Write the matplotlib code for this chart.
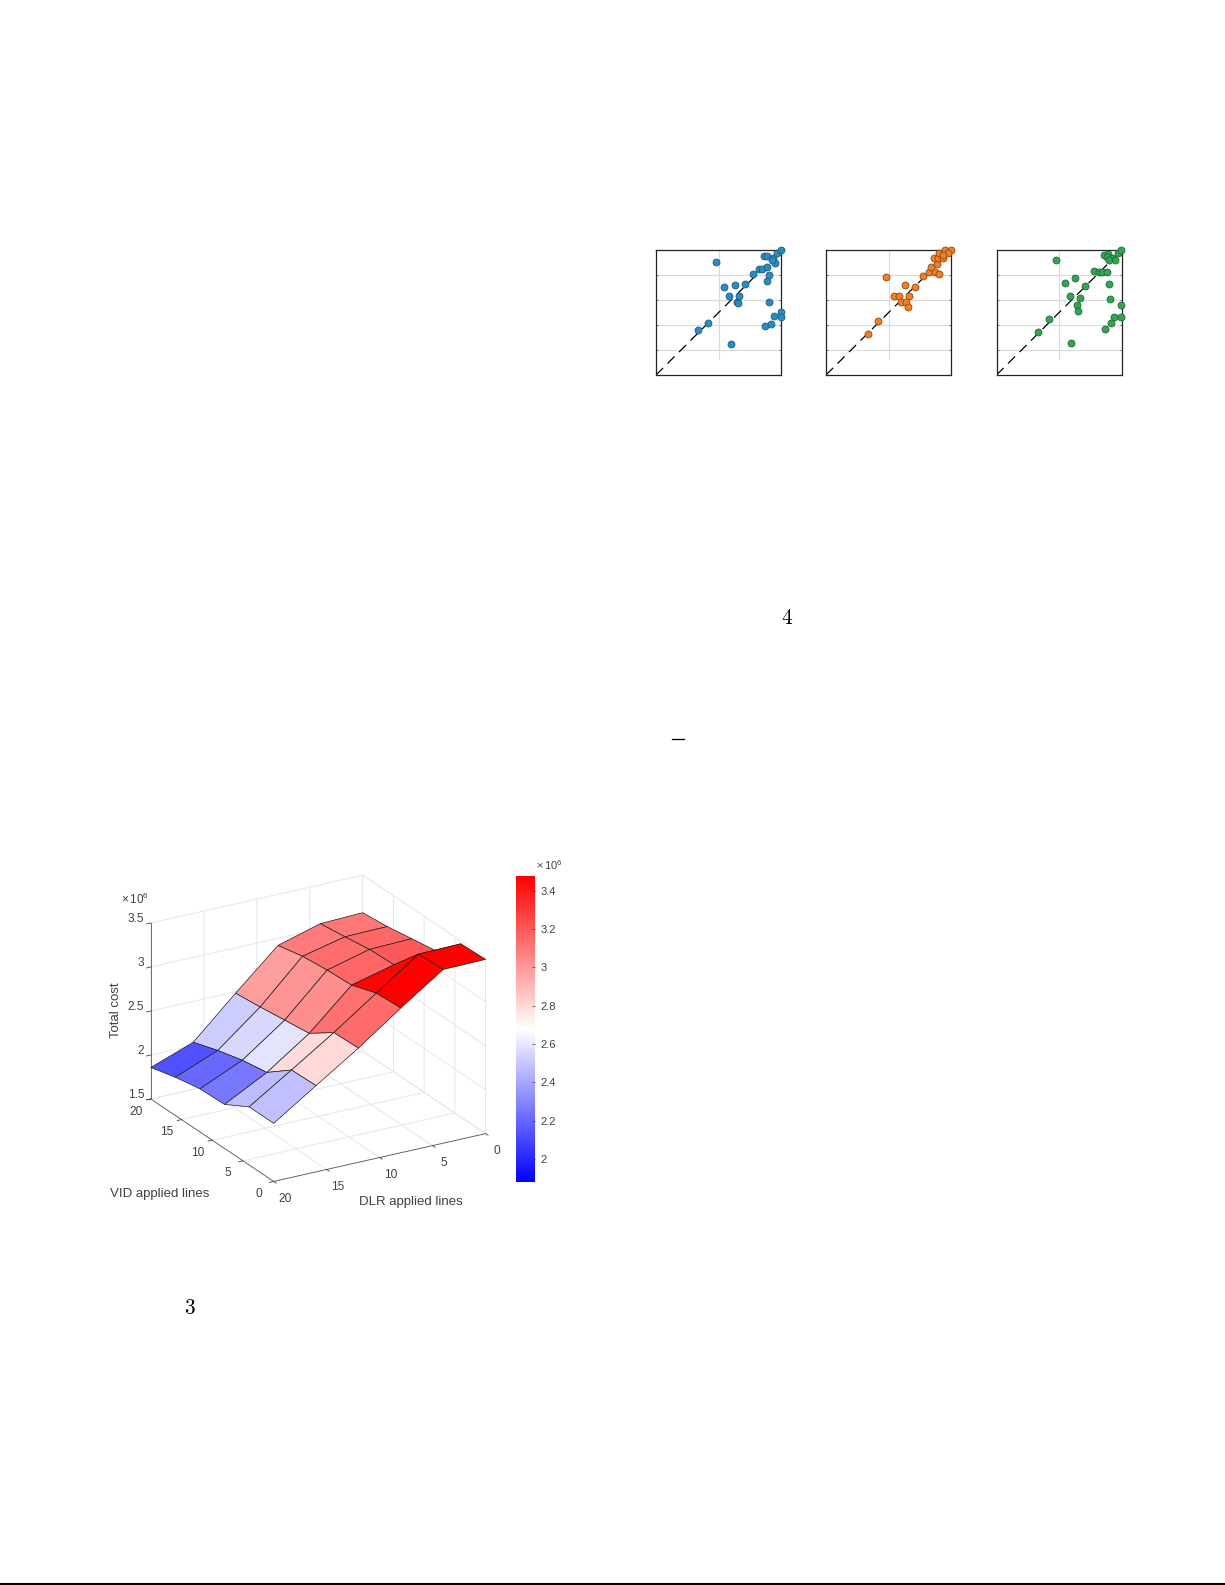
import matplotlib

matplotlib.use("Agg")

import matplotlib.pyplot as plt
import numpy as np
from matplotlib.cm import ScalarMappable
from matplotlib.colors import LinearSegmentedColormap, Normalize
from matplotlib.lines import Line2D

WIDTH, HEIGHT = 1225, 1585

# surface: rows run VID 20 -> 0, columns run DLR 20 -> 0 (units of 1e6)
VID_LINES = [20, 16, 12, 8, 4, 0]
DLR_LINES = [20, 16, 12, 8, 4, 0]
TOTAL_COST = [
    [1.858, 2.036, 2.485, 2.919, 3.058, 3.074],
    [1.934, 2.130, 2.515, 2.983, 3.096, 3.104],
    [1.990, 2.206, 2.553, 3.013, 3.140, 3.153],
    [2.000, 2.255, 2.590, 3.030, 3.153, 3.200],
    [2.160, 2.470, 2.787, 3.126, 3.462, 3.470],
    [2.160, 2.480, 2.798, 3.145, 3.474, 3.480],
]
COLOR_MIN, COLOR_MAX = 1.877, 3.478

BLUE_X = [.479, .596, .335, .418, .545, .628, .707, .582, .665, .644, .654, .777, .822, .848, .886,
          .883, .902, .904, .870, .915, .939, 1.0, 1.0, .864, .888, .931, .949, .928, .968, 1.0]
BLUE_Y = [.904, .245, .360, .413, .701, .717, .728, .629, .632, .587, .576, .808, .851, .845, .867,
          .752, .797, .587, .395, .408, .472, .501, .461, .955, .949, .939, .899, .920, .973, 1.0]
ORANGE_X = [.476, .628, .707, .418, .335, .545, .580, .665, .598, .641, .654, .774, .819,
            .840, .867, .899, .886, .862, .894, .934, .904, .947, .997, .971, .931]
ORANGE_Y = [.787, .717, .707, .432, .331, .629, .632, .635, .587, .584, .541, .789, .821,
            .867, .821, .808, .885, .939, .939, .939, .973, 1.0, 1.0, .973, .960]
GREEN_X = [.475, .626, .544, .706, .584, .663, .642, .653, .419, .332, .597, .775, .820, .844, .883,
           .899, .902, .997, .936, .997, .912, .867, .859, .889, .881, .918, .947, .899, .966, .997]
GREEN_Y = [.920, .773, .733, .715, .635, .613, .557, .512, .448, .347, .253, .832, .827, .827, .821,
           .731, .608, .560, .467, .461, .413, .371, .960, .968, .944, .939, .920, .920, .979, 1.0]

plt.rcParams["font.family"] = ["Liberation Sans", "DejaVu Sans"]
plt.rcParams["mathtext.fontset"] = "custom"
plt.rcParams["mathtext.rm"] = "Liberation Sans"
plt.rcParams["mathtext.default"] = "regular"

INK = "#404040"
GRID = "#e6e6e6"


def box(left, top, right, bottom):
    return [left / WIDTH, 1 - bottom / HEIGHT, (right - left) / WIDTH, (bottom - top) / HEIGHT]


def put_text(figure, x, y, text, **kwargs):
    kwargs.setdefault("ha", "center")
    kwargs.setdefault("va", "center")
    kwargs.setdefault("color", INK)
    figure.text(x / WIDTH, 1 - y / HEIGHT, text, **kwargs)


def put_rule(figure, x0, x1, y, width):
    figure.add_artist(Line2D([x0 / WIDTH, x1 / WIDTH], [1 - y / HEIGHT] * 2, color="black", lw=width))


def draw_scatter(figure, left, xs, ys, color, edge):
    axis = figure.add_axes(box(left, 250, left + 125.3, 375))
    axis.plot([0, 1], [0, 1], color="black", lw=0.9, dashes=(8, 5), zorder=2)
    axis.scatter(xs, ys, s=25, color=color, edgecolor=edge, linewidth=0.6, clip_on=False, zorder=3)
    axis.set_xlim(0, 1)
    axis.set_ylim(0, 1)
    axis.set_xticks([0.5])
    axis.set_yticks([0.2, 0.4, 0.6, 0.8])
    axis.set_xticklabels([])
    axis.set_yticklabels([])
    axis.grid(axis="y", color="#dadada", lw=0.8, zorder=1)
    axis.vlines(0.5, 0.13, 1.0, color="#dadada", lw=0.8, zorder=1)
    axis.tick_params(direction="in", length=1.5, width=0.5, right=True, color=INK)
    axis.tick_params(axis="x", length=0)
    for spine in axis.spines.values():
        spine.set_linewidth(0.9)
        spine.set_color("#222222")


figure = plt.figure(figsize=(WIDTH / 100, HEIGHT / 100), dpi=100)

cmap = LinearSegmentedColormap.from_list("bwr_cost", ["#0000ff", "#ffffff", "#ff0000"])
norm = Normalize(COLOR_MIN, COLOR_MAX)

surface_axis = figure.add_axes([121 / WIDTH, 359.5 / HEIGHT, 384 / WIDTH, 384 / HEIGHT], projection="3d", proj_type="ortho")
surface_axis.set_facecolor("none")
surface_axis.view_init(elev=22.9, azim=-120.1)
surface_axis.set_box_aspect((1, 1, 0.78))

dlr_grid, vid_grid = np.meshgrid(DLR_LINES, VID_LINES)
cost = np.array(TOTAL_COST)
# flat shading takes each cell's colour from its far corner
cell_colors = cmap(norm(cost[1:, 1:]))
surface_axis.plot_surface(dlr_grid, vid_grid, cost, facecolors=cell_colors, shade=False, rstride=1, cstride=1,
                          edgecolor="#202020", linewidth=0.5, antialiased=True)

surface_axis.set_xlim(20, 0, view_margin=0)
surface_axis.set_ylim(0, 20, view_margin=0)
surface_axis.set_zlim(1.5, 3.5, view_margin=0)
surface_axis.set_xticks([20, 15, 10, 5, 0])
surface_axis.set_yticks([20, 15, 10, 5, 0])
surface_axis.set_zticks([1.5, 2, 2.5, 3, 3.5])
surface_axis.set_zticklabels(["1.5", "2", "2.5", "3", "3.5"])
for axis3d in (surface_axis.xaxis, surface_axis.yaxis, surface_axis.zaxis):
    axis3d.set_pane_color((1, 1, 1, 0))
    axis3d.pane.set_edgecolor("none")
    axis3d.line.set_color("#5a5a5a")
    axis3d.line.set_linewidth(0.6)
    axis3d._axinfo["grid"]["color"] = GRID
    axis3d._axinfo["grid"]["linewidth"] = 0.7
    axis3d._axinfo["tick"]["inward_factor"] = 0.25
    axis3d._axinfo["tick"]["outward_factor"] = 0.0
    axis3d._axinfo["tick"]["linewidth"] = {True: 0.6, False: 0.6}
    axis3d._axinfo["tick"]["color"] = "#5a5a5a"
surface_axis.tick_params(labelsize=8.6, labelcolor=INK, color=INK)
surface_axis.tick_params(axis="x", pad=5)
surface_axis.tick_params(axis="y", pad=2)
surface_axis.tick_params(axis="z", pad=-5.2)
for label in surface_axis.get_xticklabels():
    label.set_va("bottom")
for label in surface_axis.get_yticklabels() + surface_axis.get_zticklabels():
    label.set_va("baseline")
for label in surface_axis.get_zticklabels():
    label.set_ha("right")

put_text(figure, 116, 1010, "Total cost", rotation=90, fontsize=9.5)
put_text(figure, 159.3, 1193.5, "VID applied lines", fontsize=9.5)
put_text(figure, 410.7, 1202, "DLR applied lines", fontsize=9.5)
put_text(figure, 135, 899.3, r"$\times\,10^{6}$", fontsize=8.5)
put_text(figure, 549.3, 865, r"$\times\,10^{6}$", fontsize=8)

color_axis = figure.add_axes(box(516, 876, 535.3, 1182.3))
colorbar = figure.colorbar(ScalarMappable(norm=norm, cmap=cmap), cax=color_axis)
colorbar.set_ticks([2, 2.2, 2.4, 2.6, 2.8, 3, 3.2, 3.4])
colorbar.set_ticklabels(["2", "2.2", "2.4", "2.6", "2.8", "3", "3.2", "3.4"])
colorbar.outline.set_visible(False)
colorbar.ax.tick_params(direction="in", length=2, width=0.5, color=INK, labelcolor=INK, labelsize=8, pad=4)

draw_scatter(figure, 656, BLUE_X, BLUE_Y, "#2b8cbe", "#1c5f80")
draw_scatter(figure, 826, ORANGE_X, ORANGE_Y, "#f07f28", "#8a4a12")
draw_scatter(figure, 996.5, GREEN_X, GREEN_Y, "#34a354", "#1f6b36")

put_text(figure, 189, 1308, "3", family="cmr10", fontsize=15.5, color="black")
put_text(figure, 787, 618, "4", family="cmr10", fontsize=15.5, color="black")
put_rule(figure, 672, 684, 739, 0.9)
put_rule(figure, 0, WIDTH, 1584, 1.5)

figure.savefig("out.png", dpi=100)
plt.close(figure)
